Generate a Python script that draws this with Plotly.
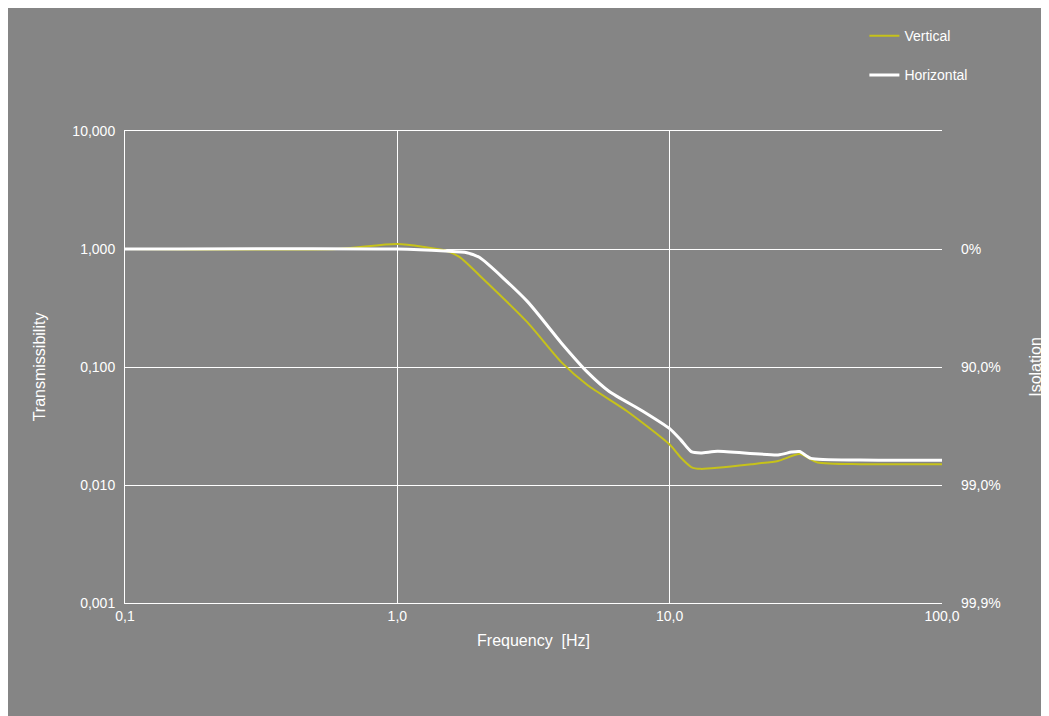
import plotly.graph_objects as go

vert_f = [0.1, 0.6, 1.0, 1.5, 1.7, 2.0, 3.0, 4.0, 5.0, 7.0, 10.0, 11.0, 12.0, 13.0, 20.0, 25.0, 30.0, 35.0, 50.0, 100.0]
vert_t = [1.0, 1.0, 1.1, 0.97, 0.85, 0.6, 0.24, 0.11, 0.07, 0.042, 0.022, 0.017, 0.0142, 0.0137, 0.015, 0.016, 0.0183, 0.0155, 0.015, 0.015]

hor_f = [0.1, 1.0, 1.5, 1.8, 2.0, 3.0, 4.0, 5.0, 6.0, 8.0, 10.0, 11.0, 12.0, 13.0, 15.0, 25.0, 28.0, 30.0, 33.0, 50.0, 100.0]
hor_t = [1.0, 1.0, 0.96, 0.93, 0.85, 0.36, 0.16, 0.09, 0.062, 0.042, 0.03, 0.024, 0.0192, 0.0187, 0.0193, 0.018, 0.019, 0.0192, 0.0168, 0.0163, 0.0162]

x_ticks = [0.1, 1, 10, 100]
x_labels = ["0,1", "1,0", "10,0", "100,0"]
y_ticks = [0.001, 0.01, 0.1, 1, 10]
y_labels = ["0,001", "0,010", "0,100", "1,000", "10,000"]
iso_ticks = [0.001, 0.01, 0.1, 1]
iso_labels = ["99,9%", "99,0%", "90,0%", "0%"]

bg = "#858585"
font = dict(family="Liberation Sans, Arial", size=14, color="white")

fig = go.Figure()
fig.add_trace(go.Scatter(x=vert_f, y=vert_t, name="Vertical", mode="lines", legendgroup="v",
                         line=dict(color="#c6c21a", width=2, shape="spline", smoothing=0.6)))
fig.add_trace(go.Scatter(x=hor_f, y=hor_t, name="Horizontal", mode="lines", legendgroup="h",
                         line=dict(color="white", width=3, shape="spline", smoothing=0.6)))
# invisible trace to activate right axis
fig.add_trace(go.Scatter(x=[1], y=[1], yaxis="y2", mode="markers", showlegend=False,
                         marker=dict(opacity=0), hoverinfo="skip"))

fig.update_layout(
    width=1049, height=716, paper_bgcolor=bg, plot_bgcolor=bg, font=font,
    margin=dict(l=117, r=115, t=112, b=121),
    xaxis=dict(type="log", range=[-1, 2], tickvals=x_ticks, ticktext=x_labels,
               gridcolor="white", linecolor="white", showline=True, mirror=True, ticks="",
               title=dict(text="Frequency  [Hz]", font=dict(size=16), standoff=12), zeroline=False),
    yaxis=dict(type="log", range=[-3, 1], tickvals=y_ticks, ticktext=y_labels,
               gridcolor="white", linecolor="white", showline=True, ticks="",
               ticklabelstandoff=6,
               title=dict(text="Transmissibility", font=dict(size=16), standoff=22), zeroline=False),
    yaxis2=dict(type="log", range=[-3, 1], overlaying="y", side="right",
                tickvals=iso_ticks, ticktext=iso_labels, showgrid=False, ticks="",
                ticklabelstandoff=18,
                title=dict(text="Isolation", font=dict(size=16), standoff=30), zeroline=False),
    legend=dict(x=0.905, y=1.235, xanchor="left", yanchor="top", bgcolor="rgba(0,0,0,0)",
                tracegroupgap=18, font=dict(size=14)),
)

fig.write_html("out.html")
